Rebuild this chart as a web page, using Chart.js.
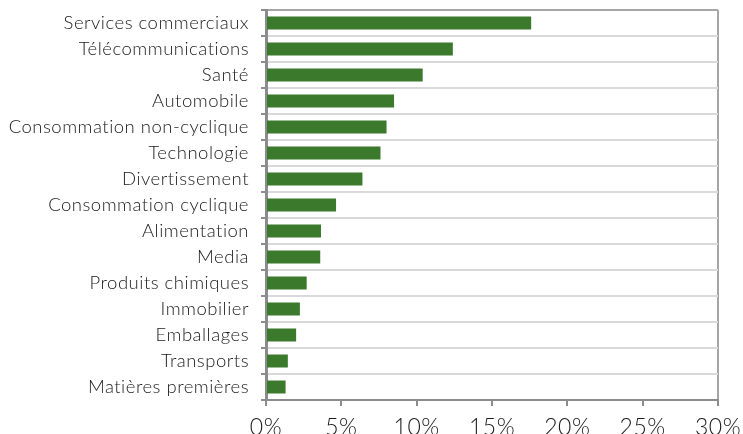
<!DOCTYPE html>
<html>
<head>
<meta charset="utf-8">
<script src="https://cdn.jsdelivr.net/npm/chart.js@4"></script>
<style>
  body { margin: 0; background: #fff; }
  #wrap { width: 743px; height: 434px; }
</style>
</head>
<body>
<div id="wrap"><canvas id="myChart" width="743" height="434"></canvas></div>
<script>
// Sectors, largest first
let sectors = [
	'Services commerciaux', 'Télécommunications', 'Santé', 'Automobile',
	'Consommation non-cyclique', 'Technologie', 'Divertissement',
	'Consommation cyclique', 'Alimentation', 'Media', 'Produits chimiques',
	'Immobilier', 'Emballages', 'Transports', 'Matières premières'
];
// weight of each sector, in %
let weights = [17.6, 12.4, 10.4, 8.5, 8.0, 7.6, 6.4, 4.65, 3.65, 3.6, 2.7, 2.25, 2.0, 1.45, 1.3];
// x-axis ticks
let xTicks = [0, 5, 10, 15, 20, 25, 30];

let ctx = document.getElementById('myChart').getContext('2d');
let fontFam = 'Lato, sans-serif';

// a bit of letter spacing: wider text, and no "ti" ligature
let spacing = {
	id: 'spacing',
	beforeDraw: (chart) => {
		chart.ctx.letterSpacing = '0.5px';
	},
};

new Chart(ctx, {
	type: 'bar',
	data: {
		labels: sectors,
		datasets: [
			{
				data: weights,
				backgroundColor: '#3b7a2c',
				barPercentage: 0.5,
				categoryPercentage: 1,
			},
		],
	},
	plugins: [spacing],
	options: {
		indexAxis: 'y',
		responsive: false,
		animation: false,
		layout: { padding: { top: 10, right: 25, left: 4, bottom: 0 } },
		plugins: { legend: { display: false }, tooltip: { enabled: false } },
		scales: {
			x: {
				min: 0,
				max: 30,
				afterBuildTicks: (scale) => {
					scale.ticks = xTicks.map((v) => ({ value: v }));
				},
				afterFit: (scale) => {
					scale.height = 34;
					scale.paddingLeft = 0;
					scale.paddingRight = 0;
				},
				ticks: {
					callback: (v) => v + '%',
					color: '#1a1a1a',
					font: { family: fontFam, size: 23, weight: 300 },
					padding: 8,
					maxRotation: 0,
				},
				grid: {
					color: (c) => (c.index === xTicks.length - 1 ? '#a6a6a6' : 'rgba(0,0,0,0)'),
					lineWidth: 2,
					tickColor: '#8c8c8c',
					tickLength: 6,
				},
				border: { color: '#8c8c8c', width: 2 },
			},
			y: {
				afterFit: (scale) => {
					scale.width = 262;
					scale.paddingTop = 0;
					scale.paddingBottom = 0;
				},
				ticks: {
					color: '#1a1a1a',
					font: { family: fontFam, size: 18.5, weight: 300 },
					padding: 12,
				},
				grid: {
					offset: true,
					color: (c) => (c.index === 0 ? '#a6a6a6' : '#d9d9d9'),
					lineWidth: 2,
					tickColor: '#8c8c8c',
					tickLength: 5,
				},
				border: { color: '#8c8c8c', width: 3 },
			},
		},
	},
});
</script>
</body>
</html>
